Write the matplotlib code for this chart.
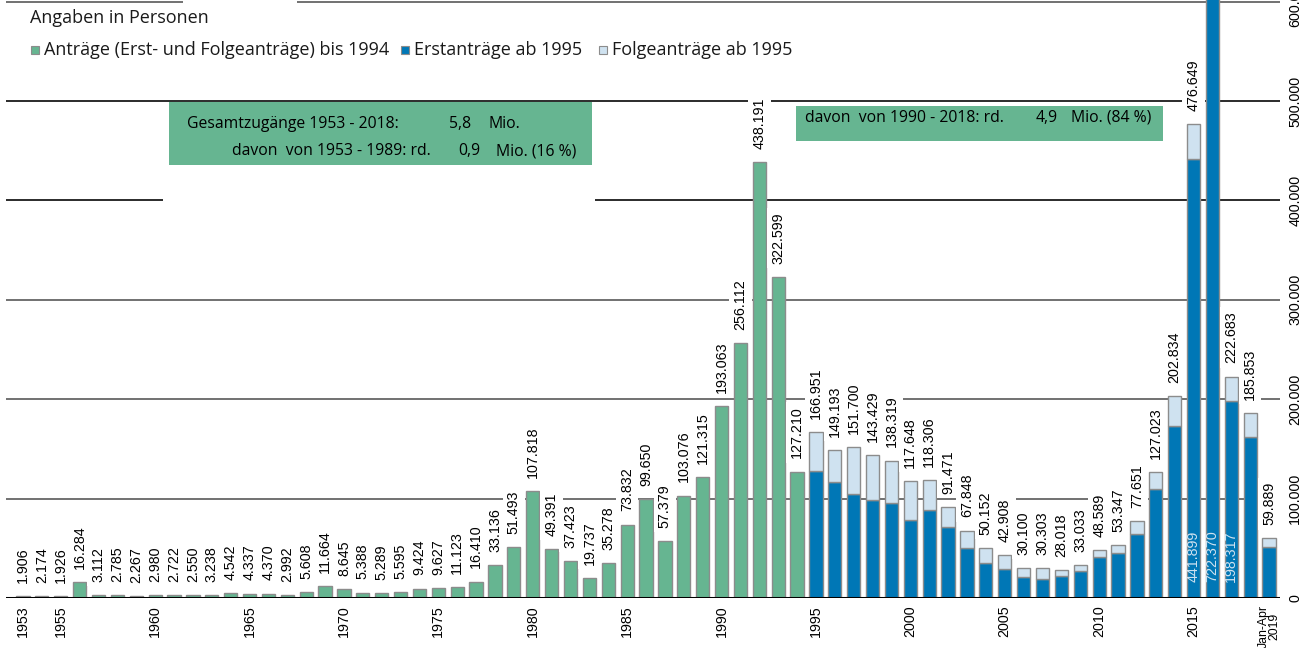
#!/usr/bin/env python3
import numpy as np
import matplotlib.pyplot as plt
import matplotlib.patches as patches
from matplotlib import font_manager


#####################################################################################################
print("Setting up the data")

years = list(range(1953, 2019)) + ["Jan-Apr\n2019"]

# Antraege (Erst- und Folgeantraege) bis 1994
total_bis1994 = [1906, 2174, 1926, 16284, 3112, 2785, 2267, 2980, 2722, 2550,
                 3238, 4542, 4337, 4370, 2992, 5608, 11664, 8645, 5388, 5289,
                 5595, 9424, 9627, 11123, 16410, 33136, 51493, 107818, 49391, 37423,
                 19737, 35278, 73832, 99650, 57379, 103076, 121315, 193063, 256112, 438191,
                 322599, 127210]

# ab 1995: Gesamt und Erstantraege (Folgeantraege = Gesamt - Erst)
total_ab1995 = [166951, 149193, 151700, 143429, 138319, 117648, 118306, 91471, 67848, 50152,
                42908, 30100, 30303, 28018, 33033, 48589, 53347, 77651, 127023, 202834,
                476649, 745545, 222683, 185853, 59889]
erst_ab1995 = [127937, 116367, 104353, 98644, 95113, 78564, 88287, 71127, 50563, 35607,
               28914, 21029, 19164, 22085, 27649, 41332, 45741, 64539, 109580, 173072,
               441899, 722370, 198317, 161931, 51600]

tick_years = [1953, 1955, 1960, 1965, 1970, 1975, 1980, 1985, 1990, 1995, 2000, 2005, 2010, 2015]
y_ticks = [0, 100000, 200000, 300000, 400000, 500000, 600000]

legend_labels = ["Anträge (Erst- und Folgeanträge) bis 1994", "Erstanträge ab 1995", "Folgeanträge ab 1995"]


#####################################################################################################
print("Plotting the data")

W, H = 1309, 648
green = "#66b591"
blue = "#0077b6"
lightblue = "#cfe2f0"
edge = "#8c8c8c"

installed = {f.name for f in font_manager.fontManager.ttflist}
if "Liberation Sans Narrow" in installed:
	numfont, numsize, ticksize = ["Liberation Sans Narrow", "DejaVu Sans"], 11.5, 11.5
else:
	numfont, numsize, ticksize = ["Liberation Sans", "DejaVu Sans"], 10.3, 10.3
txtfont = ["Open Sans", "DejaVu Sans"]


def fx(x):
	return x / W


def fy(y):
	return 1 - y / H


fig = plt.figure(figsize=(W / 100, H / 100), dpi=100)
ax = fig.add_axes([fx(6), 50 / H, (1280 - 6) / W, 598 / H])

n_old = len(total_bis1994)
idx_old = np.arange(n_old)
idx_new = np.arange(n_old, n_old + len(total_ab1995))
folge_ab1995 = [t - e for t, e in zip(total_ab1995, erst_ab1995)]

# gridlines
for yt in y_ticks[1:]:
	col = "#1a1a1a" if yt in (400000, 500000) else "#666666"
	ax.axhline(yt, color=col, lw=1.3, zorder=0)

bw = 0.7
ax.bar(idx_old, total_bis1994, width=bw, color=green, edgecolor=edge, lw=1, zorder=2)
ax.bar(idx_new, erst_ab1995, width=bw, color=blue, edgecolor=edge, lw=1, zorder=2)
ax.bar(idx_new, folge_ab1995, bottom=erst_ab1995, width=bw, color=lightblue, edgecolor=edge, lw=1, zorder=2)

ax.axhline(0, color="black", lw=2.2, zorder=4)

# value labels
totals = total_bis1994 + total_ab1995
for i, t in enumerate(totals):
	if years[i] == 2016:
		continue
	ax.annotate(f"{t:,}".replace(",", "."), (i, t), xytext=(0, 9.5), textcoords="offset points",
		rotation=90, ha="center", va="bottom", fontsize=numsize, family=numfont, zorder=3,
		bbox=dict(boxstyle="square,pad=0.3", fc="white", ec="none"))

# Erstantraege inside the big bars
for yr in (2015, 2016, 2017):
	i = years.index(yr)
	ax.text(i, 16000, f"{erst_ab1995[i - n_old]:,}".replace(",", "."), rotation=90, ha="center",
		va="bottom", fontsize=numsize, family=numfont, color=lightblue, zorder=5)

ax.set_xlim(-0.9, 66.58)
ax.set_ylim(0, 601600)

xt = [years.index(y) for y in tick_years] + [len(years) - 1]
ax.set_xticks(xt)
ax.set_xticklabels([str(y) for y in tick_years] + [years[-1]], rotation=90, fontsize=ticksize,
	family=numfont, va="top", ha="center", linespacing=0.85)
ax.get_xticklabels()[-1].set_fontsize(8.8)
ax.tick_params(axis="x", length=0, pad=5)

ax.yaxis.tick_right()
ax.set_yticks(y_ticks)
ax.set_yticklabels([f"{v:,}".replace(",", ".") for v in y_ticks], rotation=90, fontsize=ticksize,
	family=numfont, va="center")
ax.tick_params(axis="y", length=0, pad=6)

for s in ax.spines.values():
	s.set_visible(False)

#####################################################################################################
print("\tWhite gaps in the gridlines")
fig.patches.append(patches.Rectangle((fx(163), fy(206)), fx(595 - 163), (206 - 194) / H,
	transform=fig.transFigure, fc="white", ec="none", zorder=1))
fig.patches.append(patches.Rectangle((fx(183), fy(8)), fx(297 - 183), 8 / H,
	transform=fig.transFigure, fc="white", ec="none", zorder=1))

#####################################################################################################
print("\tLegend and text boxes")
fig.text(fx(30), fy(18), "Angaben in Personen", fontsize=13, family=txtfont, va="center", color="#1a1a1a")

leg_sq = [31, 401, 599]
leg_tx = [44, 414, 612]
leg_cols = [green, blue, lightblue]
for sq, tx, lab, col in zip(leg_sq, leg_tx, legend_labels, leg_cols):
	fig.patches.append(patches.Rectangle((fx(sq), fy(54)), 8 / W, 8 / H, transform=fig.transFigure,
		fc=col, ec=edge, lw=0.8, zorder=2))
	fig.text(fx(tx), fy(50), lab, fontsize=13, family=txtfont, va="center", color="#1a1a1a")

fig.patches.append(patches.Rectangle((fx(169), fy(165)), fx(592 - 169), (165 - 102) / H,
	transform=fig.transFigure, fc=green, ec="none", zorder=2))
fig.patches.append(patches.Rectangle((fx(796), fy(141)), fx(1163 - 796), (141 - 106) / H,
	transform=fig.transFigure, fc=green, ec="none", zorder=2))

bsize = 11.3
fig.text(fx(187), fy(124), "Gesamtzugänge 1953 - 2018:", fontsize=bsize, family=txtfont, va="center")
fig.text(fx(471), fy(124), "5,8", fontsize=bsize, family=txtfont, va="center", ha="right")
fig.text(fx(488), fy(124), "Mio.", fontsize=bsize, family=txtfont, va="center")
fig.text(fx(232), fy(151), "davon  von 1953 - 1989: rd.", fontsize=bsize, family=txtfont, va="center")
fig.text(fx(480), fy(151), "0,9", fontsize=bsize, family=txtfont, va="center", ha="right")
fig.text(fx(496), fy(151), "Mio. (16 %)", fontsize=bsize, family=txtfont, va="center")
fig.text(fx(805), fy(118), "davon  von 1990 - 2018: rd.", fontsize=bsize, family=txtfont, va="center")
fig.text(fx(1058), fy(118), "4,9", fontsize=bsize, family=txtfont, va="center", ha="right")
fig.text(fx(1071), fy(118), "Mio. (84 %)", fontsize=bsize, family=txtfont, va="center")

#####################################################################################################
print("\tSaving the plot")
fig.savefig("out.png", dpi=100)
print("All done!")
